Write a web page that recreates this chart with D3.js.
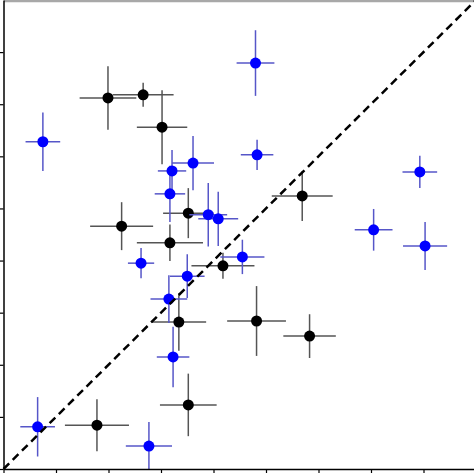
<!DOCTYPE html>
<html><head><meta charset="utf-8">
<script src="https://cdn.jsdelivr.net/npm/d3@7"></script>
<style>html,body{margin:0;padding:0;background:#fff;overflow:hidden}</style>
</head><body>
<svg id="c" width="474" height="474"></svg>
<script>
// Black series
const blackX  = [1.99, 2.66, 3.02, 3.52, 5.69, 2.25, 3.17, 4.18, 3.34, 4.82, 5.83, 3.52, 1.78];
const blackY  = [7.12, 7.18, 6.56, 4.91, 5.24, 4.66, 4.34, 3.90, 2.82, 2.84, 2.55, 1.23, 0.84];
const blackXe = [0.54, 0.58, 0.48, 0.48, 0.58, 0.60, 0.63, 0.60, 0.52, 0.56, 0.50, 0.54, 0.61];
const blackYe = [0.61, 0.23, 0.71, 0.48, 0.48, 0.46, 0.35, 0.25, 0.55, 0.67, 0.42, 0.60, 0.50];
// Blue series
const blueX  = [4.80, 0.75, 4.83, 3.61, 7.93, 3.21, 3.17, 3.90, 4.09, 7.05, 8.03, 2.62, 4.55, 3.50, 3.15, 3.23, 0.65, 2.77];
const blueY  = [7.79, 6.28, 6.03, 5.87, 5.70, 5.72, 5.28, 4.88, 4.80, 4.59, 4.28, 3.95, 4.07, 3.70, 3.26, 2.15, 0.81, 0.44];
const blueXe = [0.36, 0.33, 0.31, 0.40, 0.33, 0.27, 0.29, 0.36, 0.38, 0.36, 0.42, 0.25, 0.42, 0.33, 0.35, 0.31, 0.33, 0.44];
const blueYe = [0.63, 0.56, 0.29, 0.52, 0.31, 0.40, 0.54, 0.61, 0.52, 0.40, 0.46, 0.29, 0.33, 0.42, 0.46, 0.58, 0.57, 0.46];
const xTicks = [0,1,2,3,4,5,6,7,8];
const yTicks = [0,1,2,3,4,5,6,7,8];
const domain = [0, 9];

const svg = d3.select("#c");
const x = d3.scaleLinear().domain(domain).range([3.5, 476]);
const y = d3.scaleLinear().domain(domain).range([469, 0]);

// top grey border
svg.append("line").attr("x1", 4).attr("x2", 474).attr("y1", 1).attr("y2", 1)
  .attr("stroke", "#a8a8a8").attr("stroke-width", 2.5);

function series(xs, ys, xes, yes, barColor, dotColor) {
  const g = svg.append("g");
  const data = xs.map((v, i) => ({x: v, y: ys[i], xe: xes[i], ye: yes[i]}));
  g.selectAll(".h").data(data).join("line")
    .attr("x1", d => x(d.x - d.xe)).attr("x2", d => x(d.x + d.xe))
    .attr("y1", d => y(d.y)).attr("y2", d => y(d.y))
    .attr("stroke", barColor).attr("stroke-width", 1.5);
  g.selectAll(".v").data(data).join("line")
    .attr("x1", d => x(d.x)).attr("x2", d => x(d.x))
    .attr("y1", d => y(d.y - d.ye)).attr("y2", d => y(d.y + d.ye))
    .attr("stroke", barColor).attr("stroke-width", 1.5);
  g.selectAll("circle").data(data).join("circle")
    .attr("cx", d => x(d.x)).attr("cy", d => y(d.y)).attr("r", 5.5)
    .attr("fill", dotColor);
}
series(blackX, blackY, blackXe, blackYe, "#555555", "#000000");
series(blueX, blueY, blueXe, blueYe, "#5656c8", "#0000ff");

// y = x dashed line
svg.append("line")
  .attr("x1", x(0)).attr("y1", y(0)).attr("x2", x(9)).attr("y2", y(9))
  .attr("stroke", "#000").attr("stroke-width", 2.5).attr("stroke-dasharray", "8,5");

// axes
const xAxis = d3.axisBottom(x).tickValues(xTicks).tickFormat("").tickSize(4).tickSizeOuter(0);
const yAxis = d3.axisLeft(y).tickValues(yTicks).tickFormat("").tickSize(4).tickSizeOuter(0);
const gx = svg.append("g").attr("transform", "translate(0,469)").call(xAxis);
const gy = svg.append("g").attr("transform", "translate(3.5,0)").call(yAxis);
[gx, gy].forEach(g => {
  g.select(".domain").attr("stroke", "#000").attr("stroke-width", 1.5);
  g.selectAll(".tick line").attr("stroke", "#000").attr("stroke-width", 1.2);
});
</script>
</body></html>
